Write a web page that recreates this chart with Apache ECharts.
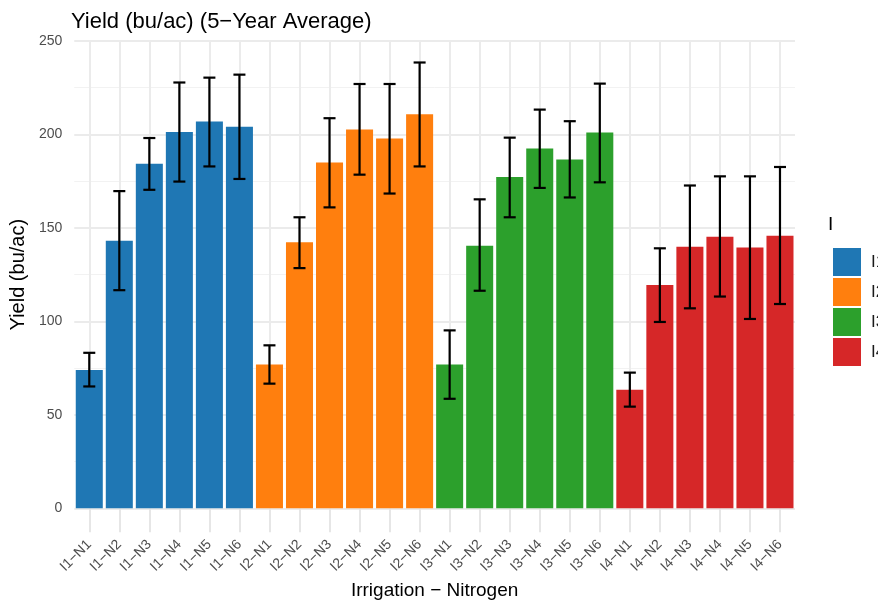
<!DOCTYPE html>
<html>
<head>
<meta charset="utf-8">
<script src="https://cdn.jsdelivr.net/npm/echarts@6/dist/echarts.min.js"></script>
<style>
html,body{margin:0;padding:0;background:#fff;}
#chart{width:878px;height:605px;}
</style>
</head>
<body>
<div id="chart"></div>
<script>
var groups = ['I1', 'I2', 'I3', 'I4'];
var nitrogen = ['N1', 'N2', 'N3', 'N4', 'N5', 'N6'];
var colors = ['#1F77B4', '#FF7F0E', '#2CA02C', '#D62728'];
var yTicks = [0, 50, 100, 150, 200, 250];

var means = [74.0, 143.2, 184.3, 201.3, 206.9, 204.1,
             77.0, 142.3, 185.0, 202.7, 197.9, 210.8,
             77.0, 140.5, 177.3, 192.5, 186.6, 201.1,
             63.4, 119.5, 140.0, 145.3, 139.5, 145.8];
var lower = [65.2, 116.7, 170.4, 174.8, 182.9, 176.2,
             66.7, 128.5, 161.0, 178.5, 168.4, 182.9,
             58.6, 116.4, 155.7, 171.4, 166.3, 174.4,
             54.4, 99.7, 107.0, 113.3, 101.3, 109.3];
var upper = [83.2, 169.7, 198.1, 227.8, 230.4, 232.0,
             87.2, 155.7, 208.7, 227.0, 227.0, 238.5,
             95.2, 165.3, 198.3, 213.3, 207.1, 227.2,
             72.6, 139.1, 172.7, 177.6, 177.6, 182.6];

var categories = [];
groups.forEach(function (g) {
  nitrogen.forEach(function (n) { categories.push(g + '\u2212' + n); });
});

var barSeries = groups.map(function (g, gi) {
  return {
    name: g,
    type: 'bar',
    stack: 'all',
    barWidth: '90%',
    itemStyle: { color: colors[gi] },
    data: means.map(function (v, i) {
      return Math.floor(i / nitrogen.length) === gi ? v : null;
    }),
    z: 2
  };
});

var errData = categories.map(function (c, i) { return [i, lower[i], upper[i]]; });

var errSeries = {
  type: 'custom',
  name: 'err',
  z: 5,
  silent: true,
  renderItem: function (params, api) {
    var x = api.value(0);
    var lo = api.coord([x, api.value(1)]);
    var hi = api.coord([x, api.value(2)]);
    var half = api.size([1, 0])[0] * 0.2;
    var st = { stroke: '#000', lineWidth: 2.2 };
    return {
      type: 'group',
      children: [
        { type: 'line', shape: { x1: lo[0], y1: lo[1], x2: hi[0], y2: hi[1] }, style: st },
        { type: 'line', shape: { x1: lo[0] - half, y1: lo[1], x2: lo[0] + half, y2: lo[1] }, style: st },
        { type: 'line', shape: { x1: hi[0] - half, y1: hi[1], x2: hi[0] + half, y2: hi[1] }, style: st }
      ]
    };
  },
  encode: { x: 0, y: [1, 2] },
  data: errData
};

var chart = echarts.init(document.getElementById('chart'), null, { renderer: 'canvas' });
chart.setOption({
  backgroundColor: '#fff',
  animation: false,
  textStyle: { fontFamily: 'Liberation Sans, Arial, sans-serif' },
  title: {
    text: 'Yield (bu/ac) (5\u2212Year Average)',
    left: 66, top: 6,
    textStyle: { fontSize: 22, fontWeight: 'normal', color: '#000' }
  },
  grid: { left: 69, right: 83, top: 41, bottom: 92, containLabel: false },
  legend: {
    data: groups,
    orient: 'vertical',
    left: 828, top: 243,
    itemWidth: 28, itemHeight: 28, itemGap: 2,
    icon: 'rect',
    textStyle: { fontSize: 17, color: '#1a1a1a', padding: [0, 0, 0, 5] }
  },
  graphic: [{
    type: 'text', left: 828, top: 215,
    style: { text: 'I', fill: '#000', font: '19px Liberation Sans' }
  }],
  xAxis: {
    type: 'category',
    data: categories,
    name: 'Irrigation \u2212 Nitrogen',
    nameLocation: 'middle',
    nameGap: 70,
    nameTextStyle: { fontSize: 19, color: '#000' },
    axisLine: { show: false },
    axisTick: { show: true, alignWithLabel: true, length: 24, lineStyle: { color: '#e6e6e6', width: 2 } },
    axisLabel: { rotate: 45, fontSize: 14, color: '#4d4d4d', margin: 34, interval: 0 },
    splitLine: { show: true, alignWithLabel: true, lineStyle: { color: '#ebebeb', width: 2 } }
  },
  yAxis: {
    type: 'value',
    min: 0, max: 250, interval: 50,
    name: 'Yield (bu/ac)',
    nameLocation: 'middle',
    nameGap: 41,
    nameTextStyle: { fontSize: 20, color: '#000' },
    axisLine: { show: false },
    axisTick: { show: false },
    axisLabel: { fontSize: 14, color: '#4d4d4d', margin: 12 },
    splitLine: { show: true, lineStyle: { color: '#ebebeb', width: 2 } },
    minorTick: { show: false, splitNumber: 2 },
    minorSplitLine: { show: true, lineStyle: { color: '#f2f2f2', width: 1 } }
  },
  series: barSeries.concat([errSeries])
});
</script>
</body>
</html>
